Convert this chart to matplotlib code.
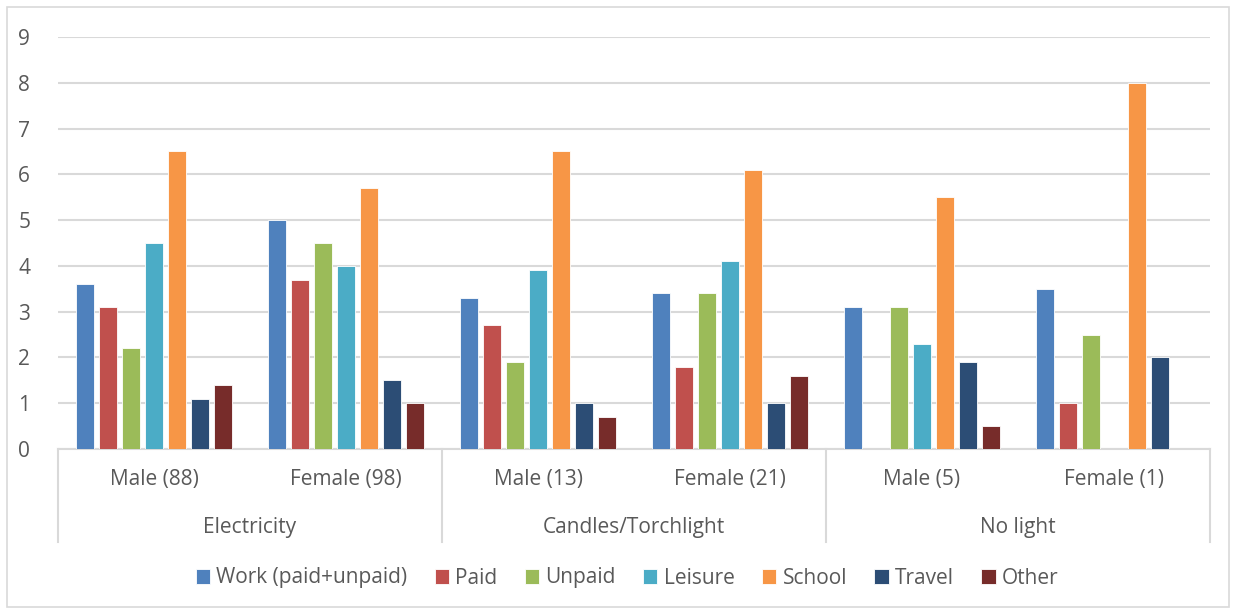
import matplotlib.pyplot as plt
import numpy as np
from matplotlib.patches import Rectangle

groups = ["Electricity", "Candles/Torchlight", "No light"]
categories = ["Male (88)", "Female (98)", "Male (13)", "Female (21)", "Male (5)", "Female (1)"]
series = ["Work (paid+unpaid)", "Paid", "Unpaid", "Leisure", "School", "Travel", "Other"]
colors = ["#4F81BD", "#C0504D", "#9BBB59", "#4BACC6", "#F79646", "#2C4D75", "#772C2A"]

work = [3.6, 5.0, 3.3, 3.4, 3.1, 3.5]
paid = [3.1, 3.7, 2.7, 1.8, np.nan, 1.0]
unpaid = [2.2, 4.5, 1.9, 3.4, 3.1, 2.5]
leisure = [4.5, 4.0, 3.9, 4.1, 2.3, np.nan]
school = [6.5, 5.7, 6.5, 6.1, 5.5, 8.0]
travel = [1.1, 1.5, 1.0, 1.0, 1.9, 2.0]
other = [1.4, 1.0, 0.7, 1.6, 0.5, np.nan]
values = [work, paid, unpaid, leisure, school, travel, other]

text_col = "#595959"
grid_col = "#D9D9D9"
plt.rcParams["font.family"] = ["Open Sans", "DejaVu Sans"]
fs = 15

fig = plt.figure(figsize=(12.4, 6.11), dpi=100)
ax = fig.add_axes([58 / 1240, 162 / 611, 1152 / 1240, 412 / 611])

x = np.arange(len(categories))
slot = 0.12
width = 0.095
for i, (name, vals, c) in enumerate(zip(series, values, colors)):
    ax.bar(x + (i - 3) * slot, vals, width, color=c, edgecolor="white",
           linewidth=0.6, label=name, zorder=3)

ax.set_xlim(-0.5, len(categories) - 0.5)
ax.set_ylim(0, 9)
ax.set_yticks(range(10))
ax.yaxis.grid(True, color=grid_col, linewidth=1.5, zorder=0)
ax.tick_params(axis="y", length=0, pad=20, labelsize=fs, labelcolor=text_col)
ax.set_xticks([])
for s in ["top", "right", "left"]:
    ax.spines[s].set_visible(False)
ax.spines["bottom"].set_color(grid_col)
ax.spines["bottom"].set_linewidth(1.5)

# multi-level category axis
trans = ax.get_xaxis_transform()
for b in [-0.5, 1.5, 3.5, 5.5]:
    ax.plot([b, b], [0, -0.225], transform=trans, color=grid_col, lw=1.5, clip_on=False)
for xi, lab in zip(x, categories):
    ax.text(xi, -0.075, lab, transform=trans, ha="center", va="center",
            fontsize=fs, color=text_col)
for gi, g in enumerate(groups):
    ax.text(2 * gi + 0.5, -0.19, g, transform=trans, ha="center", va="center",
            fontsize=fs, color=text_col)

fig.legend(loc="center", bbox_to_anchor=(627 / 1240, 1 - 578 / 611), ncol=7,
           frameon=False, fontsize=fs, handlelength=0.7, handleheight=0.7,
           handletextpad=0.3, columnspacing=1.3, labelcolor=text_col)

fig.patches.append(Rectangle((7 / 1240, 4 / 611), 1222 / 1240, 600 / 611,
                             transform=fig.transFigure, fill=False,
                             edgecolor=grid_col, linewidth=1.2))

fig.savefig("out.png", dpi=100)
